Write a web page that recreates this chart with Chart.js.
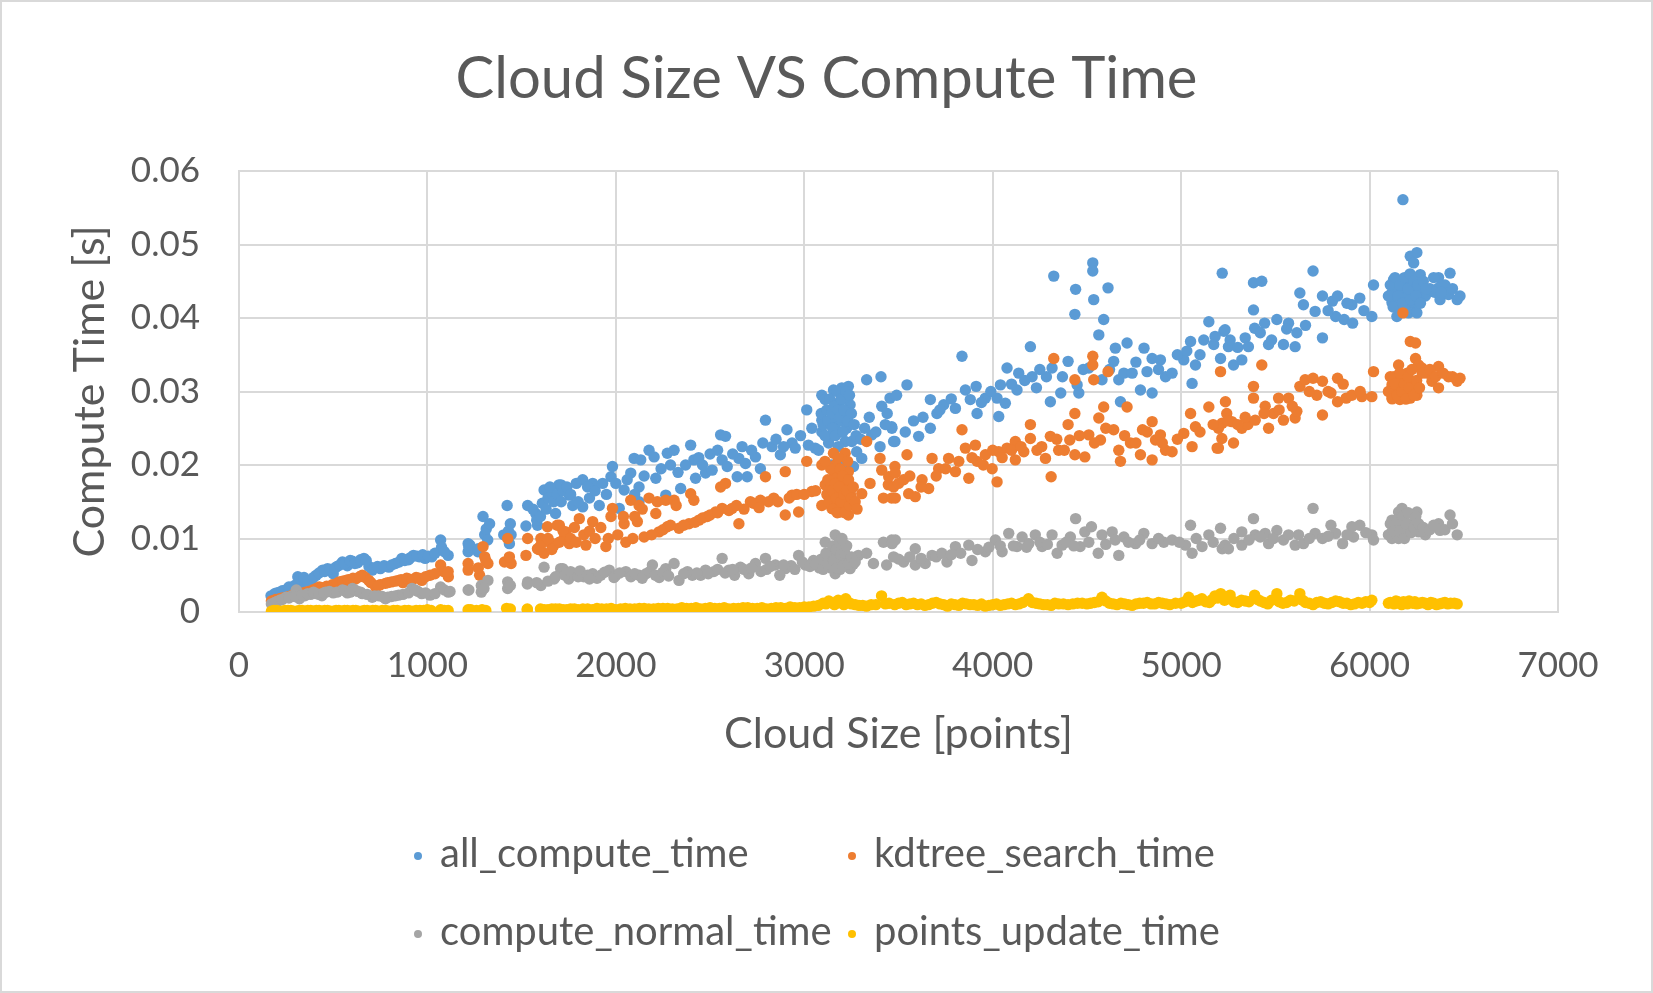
<!DOCTYPE html>
<html>
<head>
<meta charset="utf-8">
<script src="https://cdn.jsdelivr.net/npm/chart.js@4.4.1/dist/chart.umd.min.js"></script>
<style>
  html, body { margin: 0; padding: 0; background: #ffffff; }
  canvas { display: block; }
</style>
</head>
<body>
<canvas id="c" width="1653" height="993"></canvas>
<script>
// ---------------- DATA ----------------
const chartTitle = 'Cloud Size VS Compute Time';
const xAxisTitle = 'Cloud Size [points]';
const yAxisTitle = 'Compute Time [s]';
const seriesNames = ['all_compute_time', 'kdtree_search_time', 'compute_normal_time', 'points_update_time'];
const xTickLabels = ['0', '1000', '2000', '3000', '4000', '5000', '6000', '7000'];
const yTickLabels = ['0', '0.01', '0.02', '0.03', '0.04', '0.05', '0.06'];

const allX = [170,190,216,250,280,312,335,356,380,410,444,470,500,520,549,575,602,630,663,690,707,750,795,830,865,900,926,960,988,1023,1070,1075,1110,1216,1216,1268,1295,1304,1312,1405,1423,1435,1444,1523,1532,1575,1584,1610,1619,1640,1663,1680,1698,
1709,1753,1771,1824,1824,1877,1912,1974,1982,2018,2044,2079,2097,2123,2123,2132,2176,2203,2212,2265,2273,2309,2344,2397,2414,2423,2476,2511,2556,2564,2582,2591,2644,2653,2688,2697,2741,2767,2794,2829,2873,2908,2935,2952,3013,3022,3058,3076,3093,3093,3093,3111,3129,3146,3155,3164,3190,3199,3208,3217,3217,3234,3243,3252,3261,3278,3305,3331,3358,3402,3407,3411,3455,3464,3481,3490,
3170,3185,3200,3225,3180,3140,3210,
3545,3465,3474,3536,3607,3669,3704,3669,3740,3802,3837,3855,3881,3917,3912,3961,4023,4032,4041,4076,4067,4129,4138,4200,4209,4232,4285,4315,4306,4324,4361,4400,4440,4436,4448,4457,4510,4531,4531,4536,4563,4589,4612,4580,4642,4651,4669,4696,4713,4678,4740,4803,4819,4846,4784,4846,4890,4917,4952,5014,5050,5058,5076,5120,5147,5173,5209,5218,5227,
5233,5251,5278,5322,5340,5357,5384,5384,5390,5428,5443,5464,5508,5543,5570,5605,5614,5630,5649,5700,5711,5750,5750,5803,5820,5830,5865,5906,5910,5948,6012,6021,6119,6119,6127,6145,6154,6154,6177,6180,6198,6207,6216,6225,6234,6244,6251,6251,6269,6278,6296,6366,6366,6374,6419,6427,6465,
6140,6165,6190,6210,6230,6170,6200,6260,6320,6345,6400,
200,230,265,295,325,345,365,395,425,455,485,510,535,560,590,615,645,675,720,735,770,810,850,880,910,945,975,1005,1040,1090,1220,1225,1270,1320,1330,1430,1440,1580,1560,1600,1630,1650,1670,1690,1710,1720,1740,1760,1790,1800,1850,1860,1890,1930,1950,2000,2060,2100,2150,2240,2290,2330,2370,2440,2460,2500,2540,2620,2670,2720,2780,2850,2890,2980,3040,
3090,3100,3110,3120,3125,3135,3145,3150,3160,3165,3175,3180,3190,3195,3205,3210,3220,3230,3240,3250,3265,3275,3300,3320,3345,3380,3430,3440,
3580,3630,3720,3780,3940,3990,4100,4170,4250,4370,4480,4620,4760,4880,4980,5030,5100,5180,5260,5300,5420,5480,5560,5660,5780,5880,5970,
6100,6110,6125,6135,6150,6160,6175,6185,6195,6205,6215,6220,6235,6245,6255,6270,6285,6300,6340,6380,6440,6480];
const allY = [0.0022,0.0025,0.0027,0.0030,0.0033,0.0048,0.0040,0.0043,0.0040,0.0050,0.0057,0.0059,0.0052,0.0062,0.0068,0.0063,0.0069,0.0067,0.0073,0.0062,0.0057,0.0059,0.0061,0.0066,0.0073,0.0071,0.0077,0.0075,0.0073,0.0075,0.0098,0.0088,0.0077,0.0093,0.0082,0.0082,0.0130,0.0105,0.0113,0.0105,0.0145,0.0093,0.0105,0.0117,0.0145,0.0134,0.0118,0.0148,0.0166,0.0155,0.0161,0.0134,0.0173,
0.0173,0.0159,0.0145,0.0180,0.0143,0.0175,0.0145,0.0184,0.0198,0.0141,0.0166,0.0189,0.0209,0.0170,0.0150,0.0207,0.0220,0.0211,0.0182,0.0159,0.0216,0.0220,0.0168,0.0227,0.0207,0.0182,0.0189,0.0193,0.0241,0.0207,0.0239,0.0198,0.0184,0.0209,0.0202,0.0184,0.0211,0.0195,0.0261,0.0225,0.0214,0.0248,0.0230,0.0223,0.0275,0.0227,0.0223,0.0220,0.0295,0.0261,0.0245,0.0289,0.0230,0.0200,0.0302,0.0255,0.0245,0.0305,0.0198,0.0270,0.0232,0.0307,0.0282,0.0232,0.0198,0.0218,0.0209,0.0316,0.0241,0.0225,0.0320,0.0280,0.0291,0.0252,0.0232,0.0295,
0.0265,0.0285,0.0260,0.0250,0.0225,0.0240,0.0290,
0.0309,0.0250,0.0232,0.0245,0.0239,0.0250,0.0270,0.0289,0.0282,0.0277,0.0348,0.0302,0.0289,0.0270,0.0307,0.0291,0.0291,0.0266,0.0309,0.0332,0.0284,0.0302,0.0325,0.0361,0.0320,0.0305,0.0320,0.0332,0.0286,0.0457,0.0298,0.0341,0.0439,0.0405,0.0309,0.0298,0.0332,0.0475,0.0464,0.0425,0.0377,0.0398,0.0441,0.0316,0.0341,0.0359,0.0316,0.0325,0.0366,0.0286,0.0325,0.0359,0.0327,0.0345,0.0302,0.0298,0.0343,0.0320,0.0325,0.0343,0.0368,0.0311,0.0336,0.0370,0.0395,0.0364,0.0345,0.0461,0.0382,
0.0384,0.0361,0.0336,0.0343,0.0373,0.0361,0.0448,0.0411,0.0386,0.0450,0.0393,0.0364,0.0398,0.0364,0.0393,0.0361,0.0380,0.0434,0.0418,0.0464,0.0409,0.0373,0.0430,0.0423,0.0402,0.0430,0.0398,0.0418,0.0393,0.0427,0.0402,0.0445,0.0434,0.0421,0.0452,0.0402,0.0450,0.0421,0.0561,0.0425,0.0452,0.0407,0.0484,0.0434,0.0475,0.0418,0.0489,0.0407,0.0459,0.0439,0.0430,0.0455,0.0441,0.0425,0.0432,0.0461,0.0425,
0.0440,0.0415,0.0440,0.0420,0.0445,0.0435,0.0430,0.0425,0.0440,0.0435,0.0445,
0.0026,0.0029,0.0034,0.0036,0.0045,0.0047,0.0042,0.0047,0.0053,0.0055,0.0058,0.0060,0.0064,0.0066,0.0070,0.0066,0.0071,0.0070,0.0060,0.0062,0.0063,0.0064,0.0068,0.0070,0.0074,0.0076,0.0078,0.0076,0.0080,0.0082,0.0088,0.0091,0.0086,0.0098,0.0120,0.0110,0.0120,0.0125,0.0140,0.0130,0.0140,0.0170,0.0150,0.0160,0.0150,0.0165,0.0170,0.0160,0.0175,0.0150,0.0170,0.0155,0.0165,0.0175,0.0160,0.0175,0.0180,0.0160,0.0185,0.0195,0.0200,0.0190,0.0200,0.0210,0.0200,0.0215,0.0220,0.0215,0.0225,0.0220,0.0230,0.0235,0.0225,0.0240,0.0250,
0.0270,0.0255,0.0240,0.0275,0.0260,0.0290,0.0270,0.0250,0.0280,0.0240,0.0300,0.0275,0.0265,0.0290,0.0245,0.0275,0.0300,0.0260,0.0295,0.0270,0.0255,0.0240,0.0235,0.0250,0.0265,0.0245,0.0255,0.0270,
0.0260,0.0265,0.0275,0.0290,0.0285,0.0300,0.0310,0.0315,0.0330,0.0320,0.0330,0.0330,0.0340,0.0330,0.0350,0.0355,0.0350,0.0375,0.0370,0.0360,0.0380,0.0370,0.0385,0.0390,0.0410,0.0420,0.0410,
0.0430,0.0445,0.0415,0.0455,0.0430,0.0445,0.0420,0.0455,0.0410,0.0440,0.0460,0.0425,0.0450,0.0430,0.0445,0.0420,0.0450,0.0440,0.0455,0.0435,0.0440,0.0430];

const kdX = [172,195,216,250,280,304,340,370,391,426,450,479,510,532,567,590,619,654,670,689,725,750,777,810,847,870,900,940,970,1014,1070,1085,1111,1216,1216,1277,1295,1304,1321,1409,1426,1444,1523,1532,1584,1602,1619,1637,1650,1672,1689,1725,
1700,1735,1753,1806,1841,1877,1947,1974,1982,2044,2053,2079,2114,2123,2150,2176,2212,2220,2229,2265,2273,2309,2335,2388,2397,2414,2441,2485,2529,2556,2564,2582,2617,2653,2714,2767,2794,2838,2899,2899,2935,2970,3013,3040,3093,3093,3111,3146,3155,3164,3164,3190,3190,3217,3217,3234,3234,3305,3331,3349,3402,3411,3420,3446,3464,3481,
3140,3175,3200,3210,3180,3225,3160,3245,
3448,3483,3474,3483,3527,3545,3554,3589,3625,3660,3678,3713,3766,3802,3837,3855,3873,3908,3917,3961,3997,4023,4032,4076,4120,4120,4165,4200,4200,4235,4280,4306,4310,4324,4350,4400,4409,4436,4436,4436,4489,4510,4531,4531,4536,4563,4572,4589,4612,4642,4669,4678,4713,4731,4784,4795,4846,4846,4864,4890,4917,4952,5014,5050,5058,5076,5147,5191,5209,5218,5235,
5242,5198,5216,5198,5278,5269,5322,5354,5393,5384,5384,5428,5446,5464,5490,5517,5543,5570,5605,5614,5630,5658,5700,5720,5750,5750,5795,5830,5830,5876,5906,5959,6012,6021,6119,6119,6154,6154,6161,6177,6180,6198,6216,6244,6244,6260,6216,6251,6278,6304,6331,6366,6366,6419,6465,
6140,6170,6200,6230,6190,6240,6130,
190,230,265,290,320,355,410,440,465,495,520,550,580,605,640,700,740,790,830,860,890,920,955,990,1040,1110,1270,1310,1435,1590,1600,1640,1660,1700,1720,1760,1780,1790,1830,1860,1890,1920,1960,2010,2040,2090,2100,2140,2190,2250,2290,2320,2360,2420,2460,2500,2540,2600,2640,2680,2730,2760,2810,2860,2920,2960,3000,3060,
3120,3125,3130,3140,3150,3155,3165,3170,3175,3185,3190,3195,3205,3210,3215,3225,3235,3240,3250,3260,3270,3280,3110,3180,3230,
3500,3560,3620,3700,3750,3820,3890,3950,4000,4050,4100,4150,4260,4340,4380,4460,4540,4600,4700,4760,4820,4900,4980,5100,5170,5250,5300,5340,5440,5520,5590,5680,5780,5860,5950,
6100,6110,6120,6135,6145,6160,6170,6185,6195,6205,6210,6225,6235,6250,6265,6280,6320,6350,6390,6440,6480];
const kdY = [0.0015,0.0017,0.0018,0.0020,0.0022,0.0023,0.0026,0.0028,0.0030,0.0034,0.0030,0.0032,0.0036,0.0041,0.0043,0.0040,0.0045,0.0050,0.0047,0.0043,0.0034,0.0037,0.0039,0.0041,0.0043,0.0040,0.0045,0.0047,0.0043,0.0050,0.0064,0.0055,0.0048,0.0066,0.0057,0.0050,0.0089,0.0075,0.0066,0.0068,0.0100,0.0066,0.0077,0.0100,0.0086,0.0100,0.0080,0.0116,0.0095,0.0091,0.0118,0.0100,
0.0118,0.0109,0.0093,0.0127,0.0091,0.0123,0.0089,0.0130,0.0141,0.0120,0.0095,0.0152,0.0123,0.0145,0.0102,0.0155,0.0134,0.0150,0.0109,0.0152,0.0116,0.0152,0.0114,0.0120,0.0161,0.0152,0.0125,0.0130,0.0136,0.0170,0.0141,0.0175,0.0141,0.0120,0.0150,0.0152,0.0184,0.0155,0.0191,0.0132,0.0159,0.0136,0.0205,0.0164,0.0200,0.0145,0.0173,0.0141,0.0216,0.0200,0.0164,0.0182,0.0136,0.0216,0.0155,0.0191,0.0132,0.0161,0.0232,0.0175,0.0209,0.0193,0.0155,0.0173,0.0155,0.0198,
0.0175,0.0190,0.0170,0.0145,0.0150,0.0175,0.0185,0.0160,
0.0184,0.0189,0.0170,0.0155,0.0180,0.0214,0.0161,0.0157,0.0180,0.0168,0.0209,0.0195,0.0209,0.0191,0.0248,0.0223,0.0182,0.0227,0.0205,0.0214,0.0195,0.0177,0.0218,0.0223,0.0232,0.0207,0.0218,0.0255,0.0236,0.0220,0.0209,0.0239,0.0184,0.0345,0.0220,0.0255,0.0234,0.0270,0.0316,0.0214,0.0211,0.0241,0.0348,0.0336,0.0316,0.0264,0.0234,0.0279,0.0327,0.0248,0.0220,0.0205,0.0279,0.0230,0.0214,0.0248,0.0259,0.0207,0.0234,0.0241,0.0220,0.0218,0.0243,0.0270,0.0225,0.0252,0.0279,0.0223,0.0327,0.0257,0.0286,
0.0270,0.0250,0.0236,0.0223,0.0230,0.0259,0.0250,0.0255,0.0261,0.0307,0.0291,0.0336,0.0280,0.0250,0.0270,0.0291,0.0261,0.0291,0.0264,0.0273,0.0307,0.0316,0.0318,0.0295,0.0314,0.0268,0.0298,0.0318,0.0286,0.0291,0.0295,0.0293,0.0293,0.0327,0.0309,0.0291,0.0336,0.0309,0.0289,0.0407,0.0314,0.0300,0.0368,0.0366,0.0345,0.0336,0.0291,0.0295,0.0332,0.0325,0.0314,0.0334,0.0305,0.0320,0.0314,
0.0300,0.0320,0.0325,0.0310,0.0290,0.0300,0.0320,
0.0016,0.0019,0.0021,0.0024,0.0025,0.0027,0.0032,0.0033,0.0035,0.0037,0.0039,0.0042,0.0044,0.0046,0.0048,0.0040,0.0036,0.0040,0.0042,0.0044,0.0046,0.0044,0.0046,0.0048,0.0052,0.0055,0.0060,0.0070,0.0075,0.0085,0.0090,0.0100,0.0085,0.0095,0.0110,0.0100,0.0115,0.0095,0.0105,0.0110,0.0100,0.0115,0.0100,0.0105,0.0130,0.0100,0.0130,0.0140,0.0105,0.0112,0.0118,0.0145,0.0118,0.0122,0.0128,0.0132,0.0135,0.0138,0.0145,0.0140,0.0148,0.0142,0.0150,0.0150,0.0155,0.0160,0.0160,0.0165,
0.0160,0.0180,0.0150,0.0195,0.0165,0.0140,0.0175,0.0155,0.0135,0.0170,0.0195,0.0150,0.0185,0.0160,0.0135,0.0165,0.0180,0.0145,0.0155,0.0170,0.0150,0.0140,0.0205,0.0210,0.0205,
0.0175,0.0185,0.0170,0.0185,0.0195,0.0205,0.0210,0.0200,0.0220,0.0210,0.0220,0.0225,0.0225,0.0235,0.0220,0.0240,0.0230,0.0250,0.0240,0.0230,0.0245,0.0230,0.0235,0.0245,0.0255,0.0260,0.0255,0.0265,0.0270,0.0275,0.0280,0.0300,0.0300,0.0310,0.0300,
0.0300,0.0320,0.0290,0.0310,0.0295,0.0325,0.0300,0.0310,0.0290,0.0320,0.0305,0.0330,0.0295,0.0315,0.0305,0.0325,0.0330,0.0320,0.0325,0.0320,0.0318];

const normX = [172,190,216,250,280,304,321,350,380,409,440,461,500,549,575,602,630,654,707,740,777,810,847,918,950,970,1014,1070,1111,1216,1286,1286,1321,1426,1426,1532,1602,1619,1672,1707,
1718,1788,1877,1965,2053,2123,2194,2265,2309,2335,2406,2476,2564,2600,2661,2705,2741,2794,2847,2899,2970,3005,3049,3111,3146,3164,3164,3199,3217,3243,3287,3331,3367,3420,3437,3464,
1750,1830,1900,2000,2080,2160,2230,2380,2450,2520,2630,2680,2770,2870,2930,3080,3130,3180,3230,3260,3190,3140,
3466,3483,3474,3527,3589,3589,3642,3678,3757,3802,3873,3890,3961,4014,4050,4085,4129,4156,4191,4226,4262,4315,4342,4368,4412,4440,4464,4489,4524,4560,4580,4634,4669,4696,4758,4802,4846,4908,4952,5023,5050,5058,5111,5147,5209,5218,
5233,5251,5322,5322,5384,5393,5446,5464,5508,5543,5605,5623,5649,5700,5711,5750,5795,5820,5857,5906,5915,5948,6012,6021,6119,6119,6119,6154,6154,6172,6189,6198,6225,6251,6260,6296,6366,6374,6427,6465,
6140,6180,6210,6240,6165,
200,230,265,295,335,365,395,425,450,480,520,560,590,615,645,680,720,760,790,830,870,900,935,990,1040,1090,1120,1220,1300,1440,1530,1580,1640,1680,1730,1760,1800,1810,1850,1860,1920,1940,1990,2020,2100,2140,2180,2210,2250,2280,2360,2430,2490,2540,2580,2620,2720,2800,2820,2890,2950,2990,3030,3060,
3090,3100,3115,3125,3150,3155,3170,3175,3185,3195,3205,3215,3225,3235,3250,3270,3200,
3500,3560,3620,3700,3730,3780,3830,3920,3980,4040,4110,4180,4250,4290,4390,4430,4510,4600,4650,4720,4780,4880,4990,5080,5170,5280,5360,5420,5490,5570,5680,5780,5880,5980,
6100,6110,6130,6145,6160,6175,6185,6195,6205,6220,6235,6245,6260,6275,6285,6320,6340,6400,6440];
const normY = [0.0011,0.0013,0.0016,0.0020,0.0022,0.0030,0.0018,0.0022,0.0024,0.0025,0.0022,0.0027,0.0026,0.0030,0.0026,0.0032,0.0028,0.0025,0.0020,0.0022,0.0018,0.0021,0.0023,0.0032,0.0028,0.0025,0.0023,0.0034,0.0027,0.0030,0.0027,0.0036,0.0043,0.0041,0.0032,0.0041,0.0036,0.0061,0.0045,0.0059,
0.0059,0.0052,0.0052,0.0057,0.0055,0.0050,0.0064,0.0059,0.0066,0.0043,0.0050,0.0057,0.0073,0.0057,0.0061,0.0052,0.0066,0.0073,0.0064,0.0059,0.0077,0.0064,0.0070,0.0095,0.0080,0.0105,0.0052,0.0068,0.0091,0.0059,0.0077,0.0080,0.0066,0.0095,0.0064,0.0098,
0.0045,0.0048,0.0046,0.0050,0.0048,0.0052,0.0047,0.0055,0.0050,0.0055,0.0050,0.0058,0.0055,0.0050,0.0063,0.0060,0.0068,0.0075,0.0072,0.0065,0.0058,0.0060,
0.0093,0.0098,0.0075,0.0068,0.0086,0.0064,0.0066,0.0077,0.0068,0.0089,0.0091,0.0070,0.0082,0.0098,0.0082,0.0107,0.0089,0.0102,0.0093,0.0105,0.0089,0.0105,0.0080,0.0091,0.0102,0.0127,0.0089,0.0109,0.0116,0.0080,0.0105,0.0109,0.0077,0.0102,0.0093,0.0107,0.0093,0.0095,0.0098,0.0091,0.0118,0.0080,0.0089,0.0105,0.0114,0.0086,
0.0091,0.0086,0.0109,0.0091,0.0127,0.0105,0.0107,0.0093,0.0111,0.0098,0.0091,0.0105,0.0093,0.0141,0.0107,0.0100,0.0118,0.0107,0.0093,0.0116,0.0102,0.0118,0.0105,0.0098,0.0125,0.0109,0.0100,0.0136,0.0100,0.0141,0.0132,0.0118,0.0120,0.0136,0.0109,0.0105,0.0120,0.0111,0.0132,0.0105,
0.0115,0.0105,0.0110,0.0125,0.0125,
0.0014,0.0017,0.0019,0.0021,0.0023,0.0025,0.0027,0.0024,0.0026,0.0028,0.0027,0.0029,0.0027,0.0030,0.0027,0.0024,0.0022,0.0021,0.0020,0.0022,0.0024,0.0026,0.0030,0.0026,0.0025,0.0030,0.0028,0.0030,0.0032,0.0036,0.0038,0.0040,0.0042,0.0048,0.0050,0.0055,0.0048,0.0056,0.0050,0.0045,0.0050,0.0054,0.0047,0.0053,0.0052,0.0046,0.0055,0.0050,0.0054,0.0049,0.0052,0.0053,0.0052,0.0058,0.0053,0.0058,0.0060,0.0058,0.0062,0.0064,0.0058,0.0068,0.0062,0.0065,
0.0072,0.0058,0.0080,0.0065,0.0090,0.0070,0.0085,0.0060,0.0095,0.0078,0.0062,0.0080,0.0090,0.0065,0.0075,0.0068,0.0100,
0.0072,0.0075,0.0073,0.0075,0.0080,0.0078,0.0080,0.0085,0.0088,0.0090,0.0090,0.0088,0.0095,0.0092,0.0095,0.0090,0.0095,0.0092,0.0098,0.0095,0.0098,0.0100,0.0095,0.0100,0.0095,0.0100,0.0098,0.0102,0.0100,0.0105,0.0100,0.0103,0.0105,0.0108,
0.0105,0.0120,0.0110,0.0125,0.0110,0.0130,0.0100,0.0120,0.0135,0.0108,0.0115,0.0130,0.0120,0.0110,0.0115,0.0112,0.0118,0.0112,0.0120];

const updX = [172,200,230,260,290,320,350,380,410,440,470,500,530,560,590,620,650,680,710,740,780,820,860,900,940,980,1020,1070,1110,1216,1260,1290,1420,1440,1530,1600,1640,1680,1720,1760,1800,1850,1900,1950,2000,2050,2100,2150,2200,2250,2300,2350,2400,2450,2500,2550,2600,2650,2700,2750,2800,2850,2900,2950,3000,3050,3100,3130,3160,3180,3200,3220,3250,3290,3330,3380,3410,3450,3480,3520,3560,3600,3640,3680,3720,3760,3800,3840,3880,3920,3960,4000,4040,4080,4120,4160,4190,4230,4270,4310,4350,4400,4450,4500,4540,4580,4620,4660,4700,4740,4780,4820,4860,4900,4940,5000,5040,5080,5110,5150,5180,5210,5230,5260,5300,5340,5390,5420,5460,5508,5540,5580,5630,5660,5700,5740,5780,5820,5860,5900,5940,5980,6012,6100,6130,6150,6170,6190,6210,6230,6250,6280,6310,6340,6370,6400,6430,6465,
185,215,245,275,305,335,365,395,425,455,485,515,545,575,605,635,665,695,725,760,800,840,880,920,960,1000,1090,1220,1230,1310,1435,1530,1620,1660,1700,1740,1780,1825,1875,1925,1975,2025,2075,2125,2175,2225,2275,2325,2375,2425,2475,2525,2575,2625,2675,2725,2775,2825,2875,2925,2975,3025,3075,3115,3145,3170,3190,3210,3235,3270,3310,3355,3430,3500,3540,3580,3620,3660,3700,3740,3780,3820,3860,3900,3940,3980,4020,4060,4100,4140,4210,4250,4290,4330,4375,4425,4475,4520,4560,4600,4640,4680,4720,4760,4800,4840,4880,4920,4970,5020,5060,5095,5130,5165,5195,5245,5280,5320,5360,5405,5440,5480,5520,5560,5600,5645,5680,5720,5760,5800,5840,5880,5920,5960,6000,6110,6140,6160,6180,6200,6220,6240,6265,6295,6325,6355,6385,6415,6450];
const updY = [0.0001,0.0002,0.0001,0.0002,0.0001,0.0002,0.0001,0.0002,0.0002,0.0001,0.0002,0.0001,0.0002,0.0002,0.0001,0.0002,0.0001,0.0002,0.0002,0.0001,0.0002,0.0002,0.0001,0.0002,0.0002,0.0002,0.0002,0.0003,0.0002,0.0003,0.0002,0.0003,0.0005,0.0004,0.0003,0.0004,0.0003,0.0004,0.0003,0.0004,0.0003,0.0004,0.0005,0.0004,0.0003,0.0005,0.0004,0.0005,0.0004,0.0005,0.0004,0.0006,0.0005,0.0004,0.0006,0.0005,0.0004,0.0005,0.0006,0.0005,0.0004,0.0006,0.0005,0.0006,0.0007,0.0008,0.0012,0.0015,0.0010,0.0016,0.0012,0.0018,0.0011,0.0009,0.0008,0.0010,0.0022,0.0012,0.0010,0.0013,0.0011,0.0010,0.0009,0.0012,0.0011,0.0008,0.0010,0.0012,0.0010,0.0009,0.0008,0.0010,0.0009,0.0011,0.0010,0.0013,0.0018,0.0012,0.0010,0.0009,0.0011,0.0010,0.0012,0.0011,0.0013,0.0020,0.0012,0.0010,0.0011,0.0009,0.0012,0.0013,0.0011,0.0012,0.0010,0.0012,0.0020,0.0015,0.0018,0.0013,0.0022,0.0025,0.0016,0.0023,0.0013,0.0015,0.0023,0.0015,0.0011,0.0025,0.0012,0.0016,0.0025,0.0013,0.0010,0.0014,0.0011,0.0015,0.0012,0.0010,0.0013,0.0014,0.0016,0.0012,0.0011,0.0014,0.0010,0.0013,0.0015,0.0012,0.0011,0.0013,0.0010,0.0012,0.0011,0.0013,0.0012,0.0011,
0.0002,0.0001,0.0002,0.0002,0.0001,0.0002,0.0002,0.0001,0.0002,0.0002,0.0001,0.0002,0.0001,0.0002,0.0002,0.0001,0.0002,0.0001,0.0002,0.0002,0.0001,0.0002,0.0002,0.0001,0.0002,0.0003,0.0002,0.0002,0.0003,0.0002,0.0003,0.0004,0.0003,0.0004,0.0004,0.0003,0.0004,0.0004,0.0003,0.0004,0.0005,0.0004,0.0004,0.0005,0.0004,0.0005,0.0005,0.0004,0.0005,0.0006,0.0005,0.0005,0.0006,0.0005,0.0006,0.0005,0.0006,0.0005,0.0006,0.0007,0.0006,0.0007,0.0009,0.0011,0.0013,0.0012,0.0014,0.0010,0.0013,0.0010,0.0009,0.0010,0.0011,0.0012,0.0010,0.0012,0.0011,0.0010,0.0013,0.0010,0.0011,0.0009,0.0011,0.0010,0.0011,0.0009,0.0011,0.0010,0.0012,0.0011,0.0013,0.0011,0.0010,0.0012,0.0011,0.0011,0.0012,0.0012,0.0014,0.0015,0.0011,0.0012,0.0010,0.0011,0.0012,0.0011,0.0013,0.0011,0.0012,0.0014,0.0013,0.0016,0.0014,0.0017,0.0019,0.0018,0.0014,0.0016,0.0014,0.0017,0.0013,0.0016,0.0014,0.0013,0.0015,0.0016,0.0012,0.0013,0.0012,0.0013,0.0014,0.0012,0.0011,0.0012,0.0013,0.0013,0.0015,0.0012,0.0014,0.0011,0.0013,0.0014,0.0012,0.0012,0.0013,0.0010,0.0012,0.0011,0.0012];

const seriesColors = ['#5b9bd5', '#ed7d31', '#a5a5a5', '#ffc000'];
// -----------------------------------------------------------------------

function pts(xs, ys) { return xs.map((x, i) => ({ x: x, y: ys[i] })); }
const seriesX = [allX, kdX, normX, updX];
const seriesY = [allY, kdY, normY, updY];

const FONT = 'Lato, "Open Sans", sans-serif';
const TEXT = '#595959';
const GRID = '#d9d9d9';

const datasets = seriesNames.map((name, i) => ({
  label: name,
  data: pts(seriesX[i], seriesY[i]),
  backgroundColor: seriesColors[i],
  borderColor: seriesColors[i],
  borderWidth: 0,
  pointRadius: 5.7,
  pointHoverRadius: 5.7,
  order: seriesNames.length - i
}));

const framePlugin = {
  id: 'frame',
  beforeDraw(chart) {
    const c = chart.ctx;
    c.save();
    c.fillStyle = '#ffffff';
    c.fillRect(0, 0, chart.width, chart.height);
    c.restore();
  },
  afterDraw(chart) {
    const c = chart.ctx;
    c.save();
    // title, centred on the whole canvas
    c.font = '58px ' + FONT;
    c.fillStyle = TEXT;
    c.textAlign = 'center';
    c.textBaseline = 'middle';
    c.fillText(chartTitle, chart.width / 2, 79);
    // legend (two-column grid as in the reference)
    const cols = [418, 852];
    const rows = [854, 932];
    c.font = '40px ' + FONT;
    c.textBaseline = 'middle';
    c.textAlign = 'left';
    chart.data.datasets.forEach((ds, i) => {
      const cx = cols[i % 2];
      const cy = rows[Math.floor(i / 2)];
      c.fillStyle = ds.backgroundColor;
      c.beginPath();
      c.arc(cx, cy + 2, 4, 0, Math.PI * 2);
      c.fill();
      c.fillStyle = TEXT;
      c.fillText(ds.label, cx + 22, cy);
    });
    // outer frame
    c.strokeStyle = GRID;
    c.lineWidth = 2;
    c.strokeRect(1, 1, chart.width - 2, chart.height - 2);
    c.restore();
  }
};

new Chart(document.getElementById('c'), {
  type: 'scatter',
  data: { datasets: datasets },
  plugins: [framePlugin],
  options: {
    responsive: false,
    animation: false,
    devicePixelRatio: 1,
    layout: { padding: { left: 0, right: 95, top: 171, bottom: 231 } },
    plugins: {
      legend: { display: false },
      tooltip: { enabled: false },
      title: { display: false }
    },
    scales: {
      x: {
        type: 'linear',
        min: 0, max: 7000,
        afterFit(s) { s.height = 150; },
        ticks: {
          stepSize: 1000,
          color: TEXT,
          padding: 33,
          font: { family: FONT, size: 35 },
          callback: (v, i) => xTickLabels[i]
        },
        grid: { color: GRID, lineWidth: 2, drawTicks: false },
        border: { color: GRID, width: 2 },
        title: {
          display: true, text: xAxisTitle, color: TEXT,
          font: { family: FONT, size: 43 },
          padding: { top: 0, bottom: 2 }
        }
      },
      y: {
        type: 'linear',
        min: 0, max: 0.06,
        afterFit(s) { s.width = 239; },
        ticks: {
          stepSize: 0.01,
          color: TEXT,
          padding: 39,
          font: { family: FONT, size: 35 },
          callback: (v, i) => yTickLabels[i]
        },
        grid: { color: GRID, lineWidth: 2, drawTicks: false },
        border: { color: GRID, width: 2 },
        title: {
          display: true, text: yAxisTitle, color: TEXT,
          font: { family: FONT, size: 43 },
          padding: { top: 64, bottom: 0 }
        }
      }
    }
  }
});
</script>
</body>
</html>
